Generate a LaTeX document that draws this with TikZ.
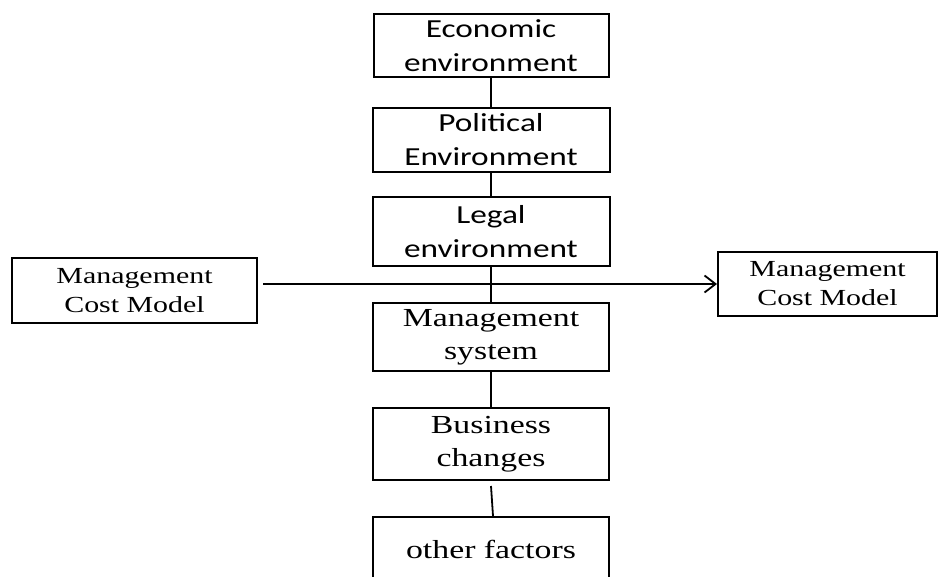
\documentclass[tikz,border=0pt]{standalone}
\usepackage{fontspec}
\setmainfont{Liberation Serif}[FakeStretch=1.3]
\newfontfamily\calibriFont{Carlito}[FakeStretch=1.28]
\usetikzlibrary{arrows.meta}
\tikzstyle{diagram} = [x = 1pt, y = -1pt]
\tikzstyle{boxStyle} = [draw, line width = 2pt, align = center, inner sep = 0pt]
\tikzstyle{sansBox} = [boxStyle, font = \calibriFont\fontsize{26}{34}\selectfont]
\tikzstyle{serifBox} = [boxStyle, font = \fontsize{26}{33}\selectfont]
\tikzstyle{sideBox} = [boxStyle, font = \fontsize{23}{29}\selectfont]
\tikzstyle{linkLine} = [line width = 1.8pt]
\begin{document}
\begin{tikzpicture}[diagram]
  \useasboundingbox (0,0) rectangle (939,576);
  \clip (0,0) rectangle (939,576);

  % environment chain
  \node [sansBox, minimum width = 235pt, minimum height = 63pt] (econ) at (491, 45.5) {Economic\\environment};
  \node [sansBox, minimum width = 237pt, minimum height = 64pt] (polit) at (491, 140) {Political\\Environment};
  \node [sansBox, minimum width = 237pt, minimum height = 69pt] (legal) at (491, 231.5) {Legal\\environment};
  \node [serifBox, minimum width = 236pt, minimum height = 68pt] (mgmtSystem) at (491, 337) {Management\\system};
  \node [serifBox, minimum width = 236pt, minimum height = 72pt] (business) at (491, 444) {Business\\changes};
  \node [serifBox, minimum width = 236pt, minimum height = 64pt] (other) at (491, 549) {other factors};

  % cost models
  \node [sideBox, minimum width = 245pt, minimum height = 65pt] (costLeft) at (134.5, 290.5) {Management\\Cost Model};
  \node [sideBox, minimum width = 219pt, minimum height = 64pt] (costRight) at (827.5, 284) {Management\\Cost Model};

  \draw [linkLine] (econ.south) -- (polit.north);
  \draw [linkLine] (polit.south) -- (legal.north);
  \draw [linkLine] (legal.south) -- (mgmtSystem.north);
  \draw [linkLine] (mgmtSystem.south) -- (business.north);
  \draw [linkLine] ([yshift = -5pt] business.south) -- ([xshift = 2pt] other.north);
  \draw [linkLine, -{Straight Barb[length = 11pt, width = 17pt]}, shorten < = 5pt]
    (costLeft.east |- costRight.west) -- (costRight.west);
\end{tikzpicture}
\end{document}
